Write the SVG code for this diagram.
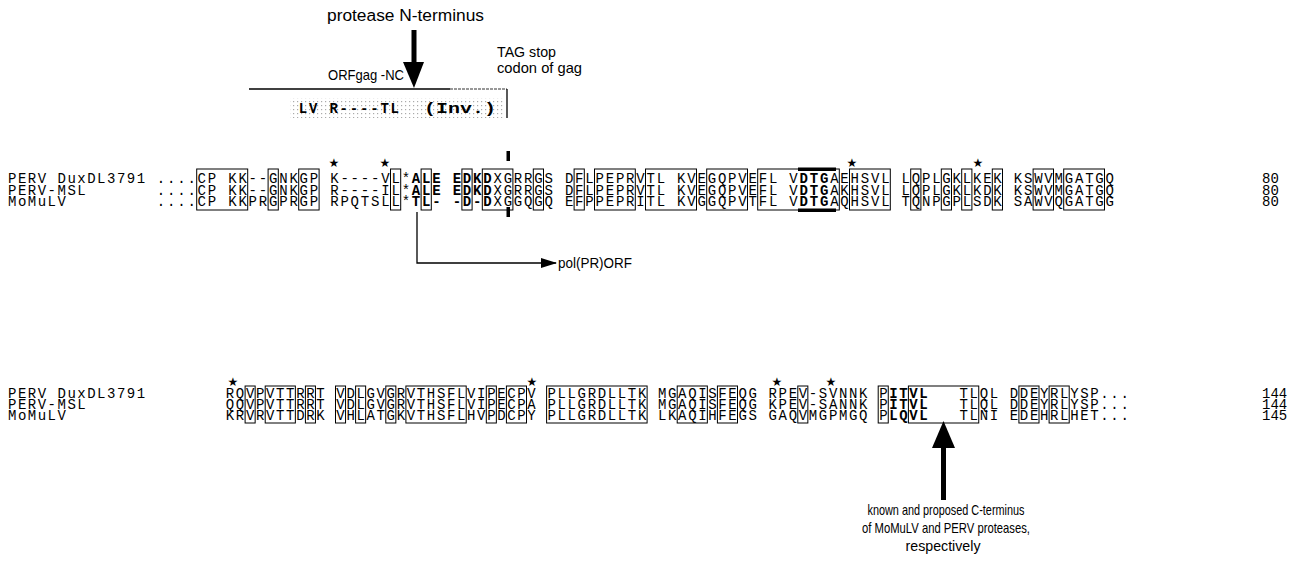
<svg xmlns="http://www.w3.org/2000/svg" width="1301" height="561" viewBox="0 0 1301 561">
<defs>
<pattern id="dots" width="4" height="4" patternUnits="userSpaceOnUse">
<rect x="1" y="1" width="1.2" height="1.2" fill="#aaa"/>
</pattern>
<marker id="ah" markerWidth="16" markerHeight="10" refX="15" refY="5" orient="auto" markerUnits="userSpaceOnUse">
<path d="M0,0 L16,5 L0,10 Z" fill="#000"/>
</marker>
</defs>
<style>
.seq{font-family:"Liberation Mono",monospace;font-size:14px;letter-spacing:1.8px;fill:#000;white-space:pre}
.seq2{font-family:"Liberation Mono",monospace;font-size:14px;letter-spacing:1.65px;fill:#000;white-space:pre}
.lab{font-family:"Liberation Mono",monospace;font-size:14px;letter-spacing:1.5px;fill:#000;white-space:pre}
.num{font-family:"Liberation Mono",monospace;font-size:14px;fill:#000}
.b{font-weight:bold}
.ann{font-family:"Liberation Sans",Arial,sans-serif;font-size:15px;fill:#000}
.star{font-family:"DejaVu Sans",sans-serif;font-size:12px;fill:#000;text-anchor:middle}
.box{fill:none;stroke:#000;stroke-width:1}
.ln{fill:none;stroke:#000;stroke-width:1.3}
</style>

<g id="top-annotations">
<text class="ann" x="327" y="21" textLength="157" lengthAdjust="spacingAndGlyphs" style="font-size:16px">protease N-terminus</text>
<rect x="411.5" y="30" width="5" height="34" fill="#000"/>
<polygon points="403,62 424,62 414,88" fill="#000"/>
<text class="ann" x="497" y="57" textLength="59" lengthAdjust="spacingAndGlyphs">TAG stop</text>
<text class="ann" x="497" y="73" textLength="85" lengthAdjust="spacingAndGlyphs">codon of gag</text>
<text class="ann" x="328" y="80" textLength="76" lengthAdjust="spacingAndGlyphs">ORFgag -NC</text>
<polyline class="ln" points="249,89 450,89"/>
<polyline fill="none" stroke="#777" stroke-width="1.3" stroke-dasharray="3,1" points="450,89 507,89"/>
<polyline class="ln" points="507,89 507,118"/>
<rect x="290" y="98" width="214" height="20" fill="url(#dots)"/>
<text class="seq b" x="298.8" y="113" xml:space="preserve">LV R----TL</text>
<text class="seq b" x="424" y="113" textLength="72" lengthAdjust="spacingAndGlyphs" style="font-size:15px;letter-spacing:0">(Inv.)</text>
<rect x="506.5" y="151" width="3.5" height="10" fill="#000"/>
<rect x="506.5" y="207" width="3.5" height="10" fill="#000"/>
</g>

<g id="block1">
<g id="stars1">
<text class="star" x="334" y="167">★</text>
<text class="star" x="385" y="167">★</text>
<text class="star" x="852" y="167">★</text>
<text class="star" x="978" y="167">★</text>
</g>
<text class="lab" x="8" y="182.5">PERV DuxDL3791</text>
<text class="lab" x="8" y="194.5">PERV-MSL</text>
<text class="lab" x="8" y="206">MoMuLV</text>
<text class="seq" x="156.8" y="182.5" xml:space="preserve">....CP KK--GNKGP K----VL*<tspan class="b">ALE EDKD</tspan>XGRRGS DFLPEPRVTL KVEGQPVEFL V<tspan class="b">DTG</tspan>AEHSVL LQPLGKLKEK KSWVMGATGQ</text>
<text class="seq" x="156.8" y="194.5" xml:space="preserve">....CP KK--GNKGP R----IL*<tspan class="b">ALE EDKD</tspan>XGRRGS DFLPEPRVTL KVEGQPVEFL V<tspan class="b">DTG</tspan>AKHSVL LQPLGKLKDK KSWVMGATGQ</text>
<text class="seq" x="156.8" y="206" xml:space="preserve">....CP KKPRGPRGP RPQTSLL*<tspan class="b">TL- -D-D</tspan>XGGQGQ EFPPEPRITL KVGGQPVTFL V<tspan class="b">DTG</tspan>AQHSVL TQNPGPLSDK SAWVQGATGG</text>
<text class="num" x="1262" y="182.5">80</text>
<text class="num" x="1262" y="194.5">80</text>
<text class="num" x="1262" y="206">80</text>
<g id="boxes1">
<rect class="box" x="196.7" y="169" width="51" height="41"/>
<rect class="box" x="268.1" y="169" width="10.2" height="41"/>
<rect class="box" x="298.7" y="169" width="20.4" height="41"/>
<rect class="box" x="390.5" y="169" width="10.2" height="41"/>
<rect class="box" x="421.1" y="169" width="10.2" height="41"/>
<rect class="box" x="461.9" y="169" width="10.2" height="41"/>
<rect class="box" x="482.3" y="169" width="30.6" height="41"/>
<rect class="box" x="533.3" y="169" width="10.2" height="41"/>
<rect class="box" x="574.1" y="169" width="10.2" height="41"/>
<rect class="box" x="594.5" y="169" width="40.8" height="41"/>
<rect class="box" x="645.5" y="169" width="51" height="41"/>
<rect class="box" x="706.7" y="169" width="40.8" height="41"/>
<rect class="box" x="757.7" y="169" width="81.6" height="41"/>
<rect class="box" x="849.5" y="169" width="40.8" height="41"/>
<rect class="box" x="910.7" y="169" width="10.2" height="41"/>
<rect class="box" x="941.3" y="169" width="10.2" height="41"/>
<rect class="box" x="961.7" y="169" width="10.2" height="41"/>
<rect class="box" x="992.3" y="169" width="10.2" height="41"/>
<rect class="box" x="1033.1" y="169" width="20.4" height="41"/>
<rect class="box" x="1063.7" y="169" width="40.8" height="41"/>
<rect x="798" y="167.5" width="38" height="3.5" fill="#000"/>
<rect x="798" y="208.5" width="38" height="3.5" fill="#000"/>
</g>
</g>

<g id="connectors">
<polyline class="ln" points="417,212 417,263 556,263" marker-end="url(#ah)"/>
</g>
<text class="ann" x="558" y="268" textLength="74" lengthAdjust="spacingAndGlyphs">pol(PR)ORF</text>

<g id="block2">
<g id="stars2">
<text class="star" x="233" y="386">★</text>
<text class="star" x="532" y="386">★</text>
<text class="star" x="777" y="386">★</text>
<text class="star" x="831" y="386">★</text>
</g>
<text class="lab" x="8" y="397.5">PERV DuxDL3791</text>
<text class="lab" x="8" y="408.5">PERV-MSL</text>
<text class="lab" x="8" y="419.5">MoMuLV</text>
<text class="seq2" x="225.8" y="397.5" xml:space="preserve">RQVPVTTRRT VDLGVGRVTHSFLVIPECPV PLLGRDLLTK MGAQISFEQG RPEV-SVNNK P<tspan class="b">ITVL</tspan>   TLQL DDEYRLYSP...</text>
<text class="seq2" x="225.8" y="408.5" xml:space="preserve">QQVPVTTRRT VDLGVGRVTHSFLVIPECPA PLLGRDLLTK MGAQISFEQG KPEV-SANNK P<tspan class="b">ITVL</tspan>   TLQL DDEYRLYSP...</text>
<text class="seq2" x="225.8" y="419.5" xml:space="preserve">KRVRVTTDRK VHLATGKVTHSFLHVPDCPY PLLGRDLLTK LKAQIHFEGS GAQVMGPMGQ P<tspan class="b">LQVL</tspan>   TLNI EDEHRLHET...</text>
<text class="num" x="1262" y="397.5">144</text>
<text class="num" x="1262" y="408.5">144</text>
<text class="num" x="1262" y="419.5">145</text>
<g id="boxes2">
<rect class="box" x="245.1" y="386" width="10.05" height="37"/>
<rect class="box" x="265.2" y="386" width="30.15" height="37"/>
<rect class="box" x="305.4" y="386" width="10.05" height="37"/>
<rect class="box" x="335.5" y="386" width="10.05" height="37"/>
<rect class="box" x="355.6" y="386" width="10.05" height="37"/>
<rect class="box" x="385.8" y="386" width="10.05" height="37"/>
<rect class="box" x="405.9" y="386" width="60.3" height="37"/>
<rect class="box" x="486.3" y="386" width="10.05" height="37"/>
<rect class="box" x="506.4" y="386" width="20.1" height="37"/>
<rect class="box" x="546.6" y="386" width="100.5" height="37"/>
<rect class="box" x="677.2" y="386" width="30.15" height="37"/>
<rect class="box" x="717.4" y="386" width="20.1" height="37"/>
<rect class="box" x="797.8" y="386" width="10.05" height="37"/>
<rect class="box" x="878.2" y="386" width="10.05" height="37"/>
<rect class="box" x="908.4" y="386" width="70.35" height="37"/>
<rect class="box" x="1018.9" y="386" width="20.1" height="37"/>
<rect class="box" x="1049.1" y="386" width="20.1" height="37"/>
</g>
</g>

<g id="bottom-annotation">
<polygon points="943.5,421 932,448 955,448" fill="#000"/>
<rect x="941" y="446" width="5" height="54" fill="#000"/>
<text class="ann" x="946" y="515" text-anchor="middle" textLength="157" lengthAdjust="spacingAndGlyphs">known and proposed C-terminus</text>
<text class="ann" x="946" y="533" text-anchor="middle" textLength="168" lengthAdjust="spacingAndGlyphs">of MoMuLV and PERV proteases,</text>
<text class="ann" x="943" y="551" text-anchor="middle" textLength="75" lengthAdjust="spacingAndGlyphs">respectively</text>
</g>
</svg>
